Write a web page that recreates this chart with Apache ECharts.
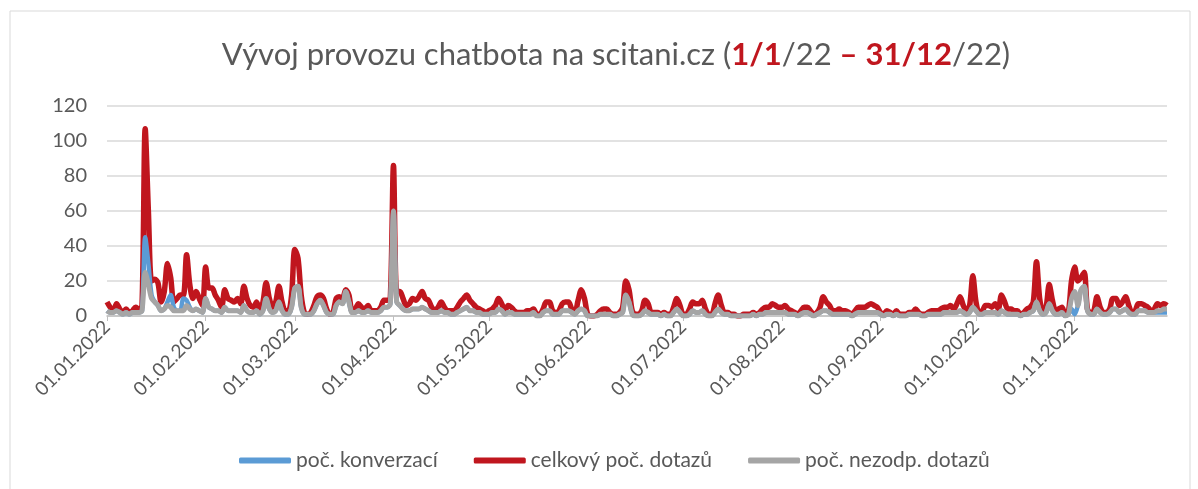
<!DOCTYPE html>
<html lang="cs" style="height: 100%">
<head>
  <meta charset="UTF-8" />
  <title>Vývoj provozu chatbota</title>
  <script src="https://cdn.jsdelivr.net/npm/echarts@6/dist/echarts.min.js"></script>
</head>
<body style="height: 100%; margin: 0; background: #fff">
  <div id="container" style="width: 1198px; height: 489px"></div>
  <script type="text/javascript">
    // denní data 01.01.2022 – 30.11.2022
    var startDate = [2022, 0, 1];
    var dayCount = 334;

    // celkový poč. dotazů
    var dotazy = [
      8, 5, 3, 7, 4, 2, 4, 2, 3, 5, 4, 6, 107, 60, 20, 21, 19, 8, 14, 30,
      22, 8, 10, 12, 12, 35, 18, 10, 14, 10, 6, 28, 16, 16, 12, 9, 5, 15, 10, 9,
      8, 10, 7, 17, 10, 6, 5, 8, 3, 8, 19, 10, 5, 8, 17, 8, 3, 3, 12, 38,
      33, 12, 2, 1, 2, 6, 11, 12, 10, 4, 1, 2, 10, 11, 10, 15, 12, 3, 4, 7,
      5, 4, 6, 3, 3, 3, 5, 9, 9, 10, 86, 14, 14, 10, 6, 7, 10, 9, 11, 14,
      10, 9, 5, 3, 5, 8, 5, 3, 3, 3, 5, 8, 10, 12, 9, 7, 5, 4, 3, 2,
      3, 4, 6, 10, 7, 3, 6, 5, 3, 2, 2, 2, 3, 3, 4, 1, 1, 4, 8, 8,
      3, 2, 3, 7, 8, 8, 4, 2, 9, 15, 10, 1, 0, 0, 1, 3, 4, 4, 2, 1,
      1, 2, 5, 20, 15, 3, 1, 1, 3, 9, 7, 2, 2, 2, 1, 2, 1, 1, 5, 10,
      6, 1, 1, 4, 8, 7, 7, 9, 4, 1, 1, 7, 12, 6, 2, 2, 1, 1, 0, 0,
      1, 1, 1, 2, 1, 2, 4, 5, 5, 7, 6, 5, 5, 6, 4, 3, 2, 1, 3, 5,
      5, 3, 1, 2, 5, 11, 8, 6, 3, 3, 4, 3, 3, 2, 1, 3, 5, 5, 5, 6,
      7, 6, 5, 2, 1, 3, 2, 1, 3, 1, 1, 1, 2, 2, 4, 2, 1, 1, 2, 3,
      3, 3, 4, 5, 5, 6, 4, 7, 11, 6, 3, 6, 23, 8, 2, 3, 6, 6, 5, 7,
      4, 12, 8, 4, 4, 3, 3, 1, 2, 4, 5, 8, 31, 10, 3, 5, 18, 9, 3, 4,
      5, 1, 2, 20, 28, 20, 22, 25, 4, 2, 3, 11, 5, 2, 2, 4, 10, 10, 6, 8,
      11, 6, 2, 3, 7, 7, 6, 5, 3, 4, 7, 6, 7, 6
    ];

    // poč. nezodp. dotazů
    var nezodp = [
      3, 2, 2, 3, 2, 1, 2, 1, 2, 2, 2, 3, 25, 18, 10, 8, 6, 3, 4, 6,
      5, 3, 3, 3, 3, 6, 4, 3, 4, 3, 2, 10, 5, 4, 3, 3, 2, 5, 3, 3,
      3, 3, 2, 6, 3, 2, 2, 3, 1, 3, 10, 4, 2, 3, 8, 3, 1, 1, 5, 16,
      17, 5, 1, 1, 1, 3, 7, 9, 6, 2, 1, 1, 6, 8, 7, 14, 8, 2, 2, 3,
      2, 2, 3, 2, 2, 2, 3, 5, 5, 7, 60, 8, 6, 4, 3, 3, 4, 4, 4, 5,
      4, 3, 2, 2, 2, 3, 2, 2, 1, 1, 2, 3, 4, 5, 3, 3, 2, 2, 1, 1,
      1, 2, 2, 4, 3, 1, 2, 2, 1, 1, 1, 1, 1, 1, 2, 0, 0, 2, 3, 3,
      1, 1, 1, 3, 3, 3, 2, 1, 3, 4, 3, 0, 0, 0, 0, 1, 1, 1, 1, 0,
      0, 1, 2, 12, 8, 1, 0, 0, 1, 3, 2, 1, 1, 1, 0, 1, 0, 0, 2, 4,
      2, 0, 0, 1, 3, 2, 2, 3, 1, 0, 0, 2, 4, 2, 1, 1, 0, 0, 0, 0,
      0, 0, 0, 1, 0, 1, 1, 2, 2, 2, 2, 2, 2, 2, 1, 1, 1, 0, 1, 2,
      2, 1, 0, 1, 2, 3, 3, 2, 1, 1, 1, 1, 1, 1, 0, 1, 2, 2, 2, 2,
      2, 2, 2, 1, 0, 1, 1, 0, 1, 0, 0, 0, 1, 1, 1, 1, 0, 0, 1, 1,
      1, 1, 1, 2, 2, 2, 2, 2, 3, 2, 1, 2, 5, 3, 1, 1, 2, 2, 2, 2,
      1, 3, 2, 1, 1, 1, 1, 0, 1, 1, 2, 3, 8, 3, 1, 2, 7, 3, 1, 1,
      2, 0, 1, 10, 14, 6, 15, 17, 3, 1, 1, 4, 2, 1, 1, 2, 4, 4, 2, 3,
      4, 2, 1, 1, 3, 3, 3, 2, 2, 2, 3, 3, 4, 4
    ];

    // poč. konverzací
    var konverzace = [
      3, 2, 2, 3, 2, 1, 2, 1, 2, 2, 2, 3, 45, 30, 12, 8, 6, 3, 4, 8,
      12, 5, 3, 3, 10, 9, 5, 3, 4, 3, 2, 10, 5, 4, 3, 3, 2, 5, 3, 3,
      3, 3, 2, 6, 3, 2, 2, 3, 1, 3, 10, 4, 2, 3, 8, 3, 1, 1, 5, 16,
      17, 5, 1, 1, 1, 3, 7, 9, 6, 2, 1, 1, 6, 8, 7, 14, 8, 2, 2, 3,
      2, 2, 3, 2, 2, 2, 3, 5, 5, 7, 60, 8, 6, 4, 3, 3, 4, 4, 4, 5,
      4, 3, 2, 2, 2, 3, 2, 2, 1, 1, 2, 3, 4, 5, 3, 3, 2, 2, 1, 1,
      1, 2, 2, 4, 3, 1, 2, 2, 1, 1, 1, 1, 1, 1, 2, 0, 0, 2, 3, 3,
      1, 1, 1, 3, 3, 3, 2, 1, 3, 4, 3, 0, 0, 0, 0, 1, 1, 1, 1, 0,
      0, 1, 2, 12, 8, 1, 0, 0, 1, 3, 2, 1, 1, 1, 0, 1, 0, 0, 2, 4,
      2, 0, 0, 1, 3, 2, 2, 3, 1, 0, 0, 2, 4, 2, 1, 1, 0, 0, 0, 0,
      0, 0, 0, 1, 0, 1, 1, 2, 2, 2, 2, 2, 2, 2, 1, 1, 1, 0, 1, 2,
      2, 1, 0, 1, 2, 3, 3, 2, 1, 1, 1, 1, 1, 1, 0, 1, 2, 2, 2, 2,
      2, 2, 2, 1, 0, 1, 1, 0, 1, 0, 0, 0, 1, 1, 1, 1, 0, 0, 1, 1,
      1, 1, 1, 2, 2, 2, 2, 2, 3, 2, 1, 2, 5, 3, 1, 1, 2, 2, 2, 2,
      1, 3, 2, 1, 1, 1, 1, 0, 1, 1, 2, 3, 8, 3, 1, 2, 7, 3, 1, 1,
      2, 0, 1, 4, 1, 6, 15, 17, 3, 1, 1, 4, 2, 1, 1, 2, 4, 4, 2, 3,
      4, 2, 1, 1, 3, 3, 3, 2, 2, 2, 2, 2, 2, 2
    ];

    var yTicks = [0, 20, 40, 60, 80, 100, 120];
    var seriesNames = ["poč. konverzací", "celkový poč. dotazů", "poč. nezodp. dotazů"];

    // kategorie – datumy dd.mm.2022
    var dny = [];
    for (var i = 0; i < dayCount; i++) {
      var d = new Date(startDate[0], startDate[1], startDate[2] + i);
      var dd = ("0" + d.getDate()).slice(-2);
      var mm = ("0" + (d.getMonth() + 1)).slice(-2);
      dny.push(dd + "." + mm + "." + d.getFullYear());
    }
    function prvniDen(index, value) {
      return value.indexOf("01.") === 0;
    }

    var dom = document.getElementById("container");
    var myChart = echarts.init(dom, null, { renderer: "canvas" });
    var font = "Lato, 'Open Sans', sans-serif";
    var sedy = "#595959";

    var option = {
      backgroundColor: "#fff",
      animation: false,
      title: {
        left: 611,
        textAlign: "center",
        top: 34,
        text: "{n|Vývoj provozu chatbota na scitani.cz (}{r|1/1}{n|/22 }{r|–}{n| }{r|31/12}{n|/22)}",
        textStyle: {
          rich: {
            n: { fontFamily: font, fontSize: 31, color: sedy, fontWeight: 400 },
            r: { fontFamily: font, fontSize: 31, color: "#c0161e", fontWeight: "bold" }
          }
        }
      },
      graphic: [{
        type: "rect",
        shape: { x: 10, y: 11, width: 1180, height: 500 },
        style: { fill: null, stroke: "#d9d9d9", lineWidth: 1 },
        silent: true
      }],
      legend: {
        data: seriesNames,
        bottom: 13,
        left: 234,
        itemWidth: 52,
        itemHeight: 6,
        itemGap: 36,
        icon: "roundRect",
        textStyle: { fontFamily: font, fontSize: 21, color: sedy }
      },
      grid: { left: 107, right: 31, top: 106, bottom: 173 },
      xAxis: {
        type: "category",
        boundaryGap: false,
        data: dny,
        axisLine: { lineStyle: { color: "#bfbfbf", width: 1.5 } },
        axisTick: { interval: prvniDen, length: 5, lineStyle: { color: "#bfbfbf" } },
        axisLabel: {
          interval: prvniDen,
          rotate: 45,
          margin: 8,
          fontFamily: font,
          fontSize: 19,
          color: sedy
        }
      },
      yAxis: {
        type: "value",
        min: yTicks[0],
        max: yTicks[yTicks.length - 1],
        interval: yTicks[1] - yTicks[0],
        axisLine: { show: false },
        axisTick: { show: false },
        splitLine: { lineStyle: { color: "#d9d9d9", width: 1.5 } },
        axisLabel: { fontFamily: font, fontSize: 20, color: sedy, margin: 20 }
      },
      series: [
        // pořadí kreslení: červená dole, modrá, šedá nahoře
        {
          name: seriesNames[1], type: "line", data: dotazy, smooth: 0.3,
          symbol: "none", color: "#c0161e",
          lineStyle: { width: 5.5, color: "#c0161e" }
        },
        {
          name: seriesNames[0], type: "line", data: konverzace, smooth: 0.3,
          symbol: "none", color: "#5b9bd5",
          lineStyle: { width: 4.5, color: "#5b9bd5" }
        },
        {
          name: seriesNames[2], type: "line", data: nezodp, smooth: 0.3,
          symbol: "none", color: "#a5a5a5",
          lineStyle: { width: 5, color: "#a5a5a5" }
        }
      ]
    };

    myChart.setOption(option);
    window.addEventListener("resize", myChart.resize);
  </script>
</body>
</html>
